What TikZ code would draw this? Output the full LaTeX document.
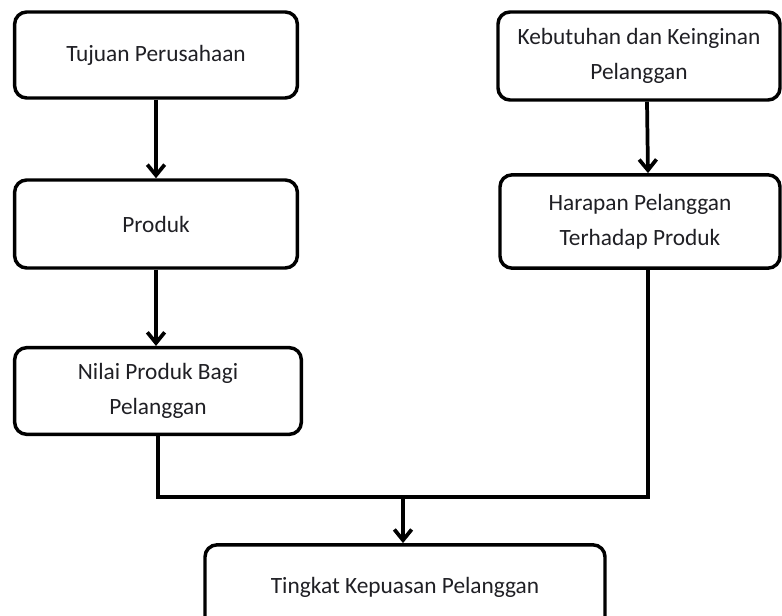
\documentclass[tikz,border=0pt]{standalone}
\usepackage{fontspec}
\setmainfont{Carlito}
\usetikzlibrary{arrows.meta,calc}
\definecolor{LineClr}{rgb}{0,0,0}
\definecolor{TextClr}{rgb}{0.12,0.12,0.14}

\begin{document}
\begin{tikzpicture}[x=0.75pt,y=-0.75pt,
  kotak/.style={draw=LineClr,line width=2.6pt,rounded corners=9pt,align=center,
    text=TextClr,font=\fontsize{17.5}{26}\selectfont,inner sep=0pt},
  garis/.style={draw=LineClr,line width=2.8pt,line join=miter},
  panah/.style={garis,-{Straight Barb[length=8pt,width=13pt]}}]
\path[clip] (0,0) rectangle (782,616);

% kiri
\node[kotak,minimum width=212pt,minimum height=64.5pt] (tujuan) at (156,55) {Tujuan Perusahaan};
\node[kotak,minimum width=212pt,minimum height=66pt] (produk) at (156,224) {Produk};
\node[kotak,minimum width=215pt,minimum height=65pt] (nilai) at (158,391) {Nilai Produk Bagi\\Pelanggan};

% kanan
\node[kotak,minimum width=211.5pt,minimum height=66pt] (butuh) at (639,56) {Kebutuhan dan Keinginan\\Pelanggan};
\node[kotak,minimum width=210pt,minimum height=70pt] (harapan) at (640,221.5) {Harapan Pelanggan\\Terhadap Produk};

% bawah
\node[kotak,minimum width=300pt,minimum height=64pt] (puas) at (405,587.5) {Tingkat Kepuasan Pelanggan};

\coordinate (temu) at (403,497);

\draw[panah] (tujuan.south) -- (tujuan.south |- produk.north);
\draw[panah] (produk.south) -- (produk.south |- nilai.north);
\draw[panah] ([xshift=6pt]butuh.south) -- ([xshift=6pt]harapan.north);
\draw[garis] (nilai.south) |- (temu) -| ([xshift=6pt]harapan.south);
\draw[panah] (temu) -- (temu |- puas.north);

\end{tikzpicture}
\end{document}
